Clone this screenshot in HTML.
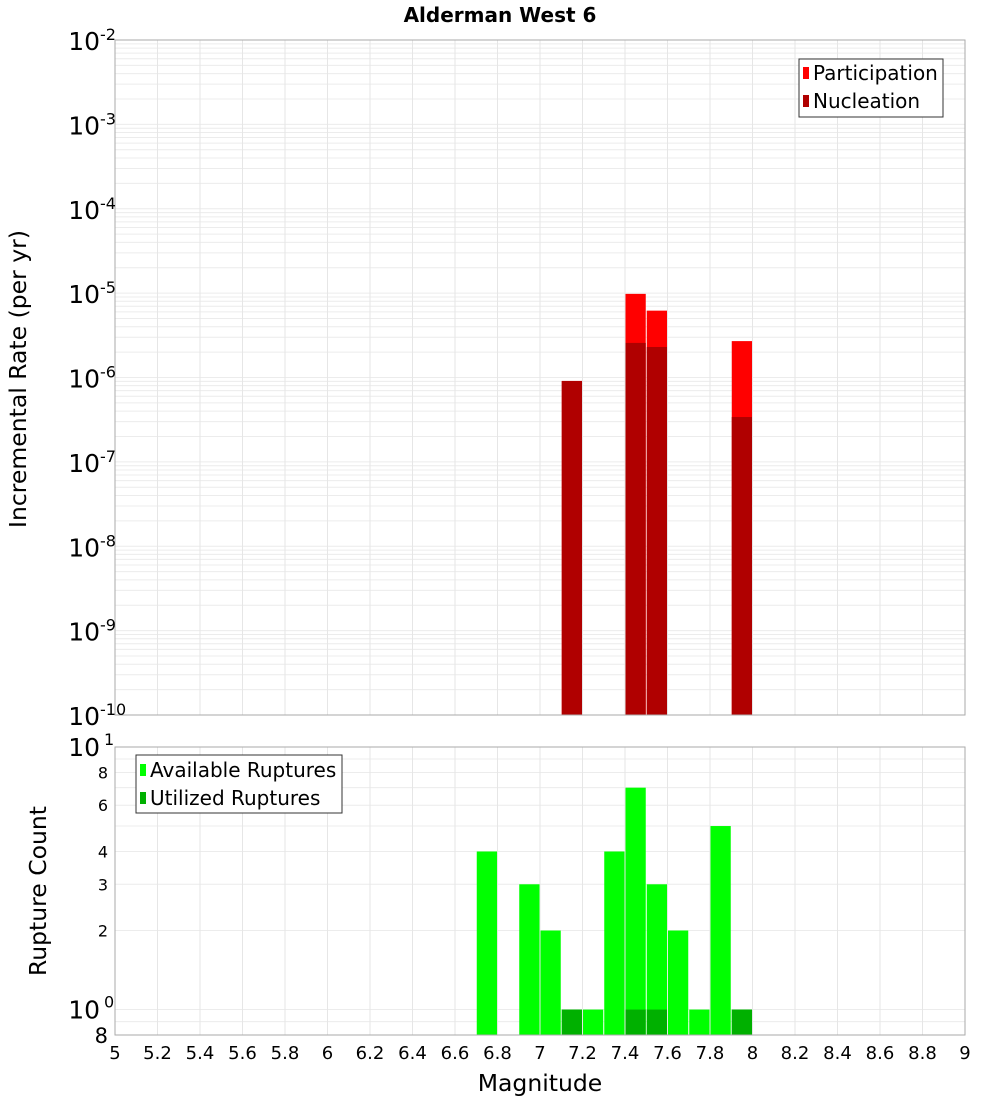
<!DOCTYPE html>
<html><head><meta charset="utf-8"><style>
body{margin:0;background:#fff}
svg text{font-family:"DejaVu Sans","Liberation Sans",sans-serif;fill:#000}
</style></head><body>
<svg id="c" width="1000" height="1100" xmlns="http://www.w3.org/2000/svg"></svg>
<script>
const topMags=[7.15,7.45,7.55,7.95];
const participation=[9.1e-7,9.8e-6,6.2e-6,2.7e-6];
const nucleation=[9.1e-7,2.57e-6,2.3e-6,3.4e-7];
const botMags=[6.75,6.95,7.05,7.15,7.25,7.35,7.45,7.55,7.65,7.75,7.85,7.95];
const available=[4,3,2,1,1,4,7,3,2,1,5,1];
const utilized=[0,0,0,1,0,0,1,1,0,0,0,1];
const xTicks=[5,5.2,5.4,5.6,5.8,6,6.2,6.4,6.6,6.8,7,7.2,7.4,7.6,7.8,8,8.2,8.4,8.6,8.8,9];
const topExp=[-2,-3,-4,-5,-6,-7,-8,-9,-10];
const botTicks=[8,6,4,3,2];

const svg=document.getElementById('c');const NS='http://www.w3.org/2000/svg';
function el(t,a,p){const e=document.createElementNS(NS,t);for(const k in a)e.setAttribute(k,a[k]);(p||svg).appendChild(e);return e;}
const X0=115,X1=965;
const x=m=>X0+(m-5)/4*(X1-X0);
const T0=40,T1=715;
const yT=v=>T0+(-2-Math.log10(v))/8*(T1-T0);
const B0=747,B1=1035,BL=Math.log10(0.8);
const yB=v=>B0+(1-Math.log10(v))/(1-BL)*(B1-B0);

let t=el('text',{x:500,y:22,'text-anchor':'middle','font-size':20,'font-weight':'bold'});t.textContent='Alderman West 6';


const gT=el('g',{});
for(let d=-10;d<-2;d++)for(let k=1;k<10;k++){const y=yT(k*Math.pow(10,d));el('line',{x1:X0,x2:X1,y1:y,y2:y,stroke:'#ececec','stroke-width':1},gT);}
xTicks.forEach(m=>el('line',{x1:x(m),x2:x(m),y1:T0,y2:T1,stroke:'#e6e6e6'},gT));
const bw=(x(5.1)-x(5))-1;
topMags.forEach((m,i)=>{
 let r=el('rect',{x:x(m)-bw/2,y:yT(participation[i]),width:bw,height:T1-yT(participation[i]),fill:'#ff0000'});
 
 r=el('rect',{x:x(m)-bw/2,y:yT(nucleation[i]),width:bw,height:T1-yT(nucleation[i]),fill:'#b00000'});
 
});
el('rect',{x:X0,y:T0,width:X1-X0,height:T1-T0,fill:'none',stroke:'#aaa'});
topExp.forEach(e=>{const y=yT(Math.pow(10,e));
 const tx=el('text',{x:100,y:y+10,'text-anchor':'end','font-size':25});tx.textContent='10';
 
 const s=el('text',{x:100,y:y,'font-size':16});s.textContent=String(e);
 });
t=el('text',{transform:'translate(26,379) rotate(-90)','text-anchor':'middle','font-size':23.5});t.textContent='Incremental Rate (per yr)';

let lg=el('g',{});
el('rect',{x:799,y:59,width:144,height:58,fill:'#fff',stroke:'#333'},lg);
el('rect',{x:803,y:67,width:6,height:12,fill:'#ff0000'},lg);
el('rect',{x:803,y:95,width:6,height:12,fill:'#b00000'},lg);
t=el('text',{x:813,y:80,'font-size':20},lg);t.textContent='Participation';
t=el('text',{x:813,y:108,'font-size':20},lg);t.textContent='Nucleation';

const gB=el('g',{});
[0.8,0.9,1,2,3,4,5,6,7,8,9,10].forEach(v=>{const y=yB(v);el('line',{x1:X0,x2:X1,y1:y,y2:y,stroke:'#ececec'},gB);});
xTicks.forEach(m=>el('line',{x1:x(m),x2:x(m),y1:B0,y2:B1,stroke:'#e6e6e6'},gB));
botMags.forEach((m,i)=>{
 let r=el('rect',{x:x(m)-bw/2,y:yB(available[i]),width:bw,height:B1-yB(available[i]),fill:'#00ff00'});
 
 if(utilized[i]>0){r=el('rect',{x:x(m)-bw/2,y:yB(utilized[i]),width:bw,height:B1-yB(utilized[i]),fill:'#00b000'});
 }
});
el('rect',{x:X0,y:B0,width:X1-X0,height:B1-B0,fill:'none',stroke:'#aaa'});
[[10,'1'],[1,'0']].forEach(([v,e])=>{const y=yB(v);
 t=el('text',{x:100,y:y+9,'text-anchor':'end','font-size':25});t.textContent='10';
 
 t=el('text',{x:104,y:y-2,'font-size':16});t.textContent=e;});
botTicks.forEach(v=>{t=el('text',{x:108,y:yB(v)+6,'text-anchor':'end','font-size':16});t.textContent=String(v);
 });
t=el('text',{x:108,y:1043,'text-anchor':'end','font-size':21});t.textContent='8';
t=el('text',{transform:'translate(46,891) rotate(-90)','text-anchor':'middle','font-size':23.5});t.textContent='Rupture Count';

xTicks.forEach(m=>{t=el('text',{x:x(m),y:1059,'text-anchor':'middle','font-size':18});t.textContent=String(m);
 });
t=el('text',{x:540,y:1091,'text-anchor':'middle','font-size':23.5});t.textContent='Magnitude';

lg=el('g',{});
el('rect',{x:136,y:755,width:206,height:58,fill:'#fff',stroke:'#333'},lg);
el('rect',{x:140,y:764,width:6,height:12,fill:'#00ff00'},lg);
el('rect',{x:140,y:792,width:6,height:12,fill:'#00b000'},lg);
t=el('text',{x:150,y:777,'font-size':20},lg);t.textContent='Available Ruptures';
t=el('text',{x:150,y:805,'font-size':20},lg);t.textContent='Utilized Ruptures';
</script>
</body></html>
